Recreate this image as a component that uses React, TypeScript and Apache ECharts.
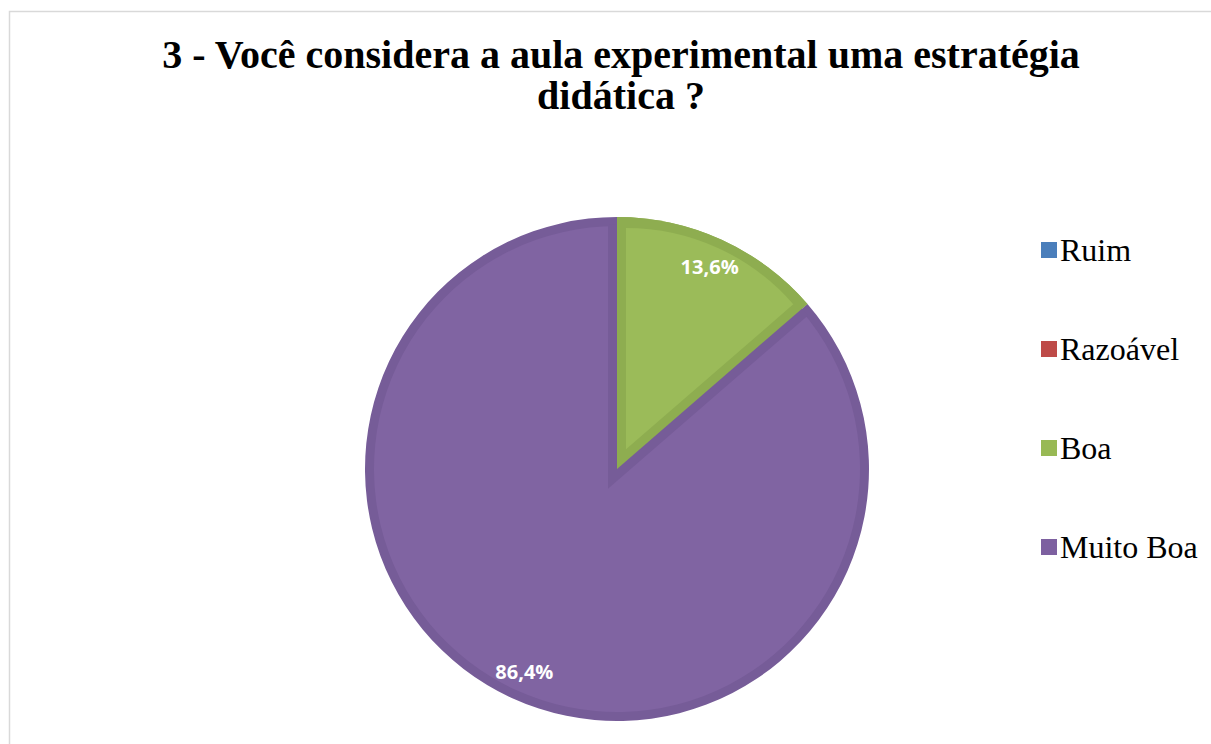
import React, { useEffect, useRef } from "react";
import * as echarts from "echarts";

const categories = ["Ruim", "Razoável", "Boa", "Muito Boa"];
const values = [0, 0, 3, 19];
const fillColors = ["#4F81BD", "#C0504D", "#9BBB59", "#8064A2"];
const edgeColors = ["#4A79B2", "#B44A47", "#8EAD50", "#765C98"];
const legendColors = ["#4A7EBB", "#BE4B48", "#98B954", "#7D60A0"];
const titleLines = ["3 - Você considera a aula experimental uma estratégia", "didática ?"];

const TRANSPARENT = "rgba(0,0,0,0)";
const SERIF = "'Liberation Serif', 'Times New Roman', serif";

export default function App() {
  const ref = useRef<HTMLDivElement>(null);

  useEffect(() => {
    if (!ref.current) return;
    const chart = echarts.init(ref.current, undefined, { renderer: "svg" });

    const C = [617, 469];
    const R = 252;
    const d = 9;
    const total = values.reduce((a, b) => a + b, 0);
    const small = 2; // index of "Boa"
    const before = values.slice(0, small).reduce((a, b) => a + b, 0);
    const span = values[small] / total;
    const phi = 2 * Math.PI * (before / total + span / 2);
    const bx = Math.sin(phi);
    const by = -Math.cos(phi);
    const alpha = Math.PI * span;
    const s = d / Math.sin(alpha);

    const layer = (
      name: string,
      center: number[],
      radius: any,
      colorFor: (i: number) => string,
      withLabels = false
    ) => ({
      type: "pie",
      name,
      center,
      radius,
      startAngle: 90,
      clockwise: true,
      silent: true,
      percentPrecision: 1,
      avoidLabelOverlap: false,
      emphasis: { disabled: true },
      labelLine: { show: false },
      label: withLabels
        ? {
            show: true,
            position: "inside",
            color: "#FFFFFF",
            fontFamily: "Open Sans",
            fontWeight: "bold",
            fontSize: 20,
            formatter: (p: any) => String(p.percent.toFixed(1)).replace(".", ",") + "%",
          }
        : { show: false },
      data: categories.map((c, i) => ({
        name: c,
        value: values[i],
        itemStyle: { color: colorFor(i), borderWidth: 0 },
        label: withLabels ? { show: values[i] > 0 } : { show: false },
      })),
    });

    const isSmall = (i: number) => i === small;

    const option: any = {
      animation: false,
      backgroundColor: "#FFFFFF",
      title: {
        text: titleLines.join("\n"),
        left: 616,
        top: 29,
        textAlign: "center",
        textStyle: {
          fontFamily: SERIF,
          fontWeight: "bold",
          fontSize: 40,
          lineHeight: 41,
          color: "#000000",
        },
      },
      legend: {
        orient: "vertical",
        left: 1036,
        top: 229,
        icon: "rect",
        itemWidth: 16,
        itemHeight: 16,
        itemGap: 67,
        selectedMode: false,
        textStyle: {
          fontFamily: SERIF,
          fontSize: 32,
          lineHeight: 30,
          color: "#000000",
          padding: [0, 0, 0, -2],
        },
        data: categories.map((c, i) => ({ name: c, itemStyle: { color: legendColors[i] } })),
      },
      graphic: [
        {
          type: "rect",
          silent: true,
          z: -10,
          shape: { x: 9.5, y: 11.5, width: 1260, height: 800 },
          style: { fill: "none", stroke: "#D9D9D9", lineWidth: 1.5 },
        },
      ],
      series: [
        layer("base", C, R, (i) => edgeColors[i]),
        layer("purpleLight", C, R - d, (i) => (isSmall(i) || values[i] === 0 ? TRANSPARENT : fillColors[i])),
        layer(
          "purpleEdge",
          [C[0] - s * bx, C[1] - s * by],
          R - d + s,
          (i) => (isSmall(i) ? edgeColors[3] : TRANSPARENT)
        ),
        layer("greenDark", C, R, (i) => (isSmall(i) ? edgeColors[i] : TRANSPARENT)),
        layer(
          "greenLight",
          [C[0] + s * bx, C[1] + s * by],
          R - d - s,
          (i) => (isSmall(i) ? fillColors[i] : TRANSPARENT)
        ),
        layer("labels", C, [R - 64, R], () => TRANSPARENT, true),
      ],
    };

    chart.setOption(option);
    return () => chart.dispose();
  }, []);

  return (
    <div
      ref={ref}
      style={{ position: "fixed", left: 0, top: 0, width: 1211, height: 744, background: "#FFFFFF" }}
    />
  );
}
